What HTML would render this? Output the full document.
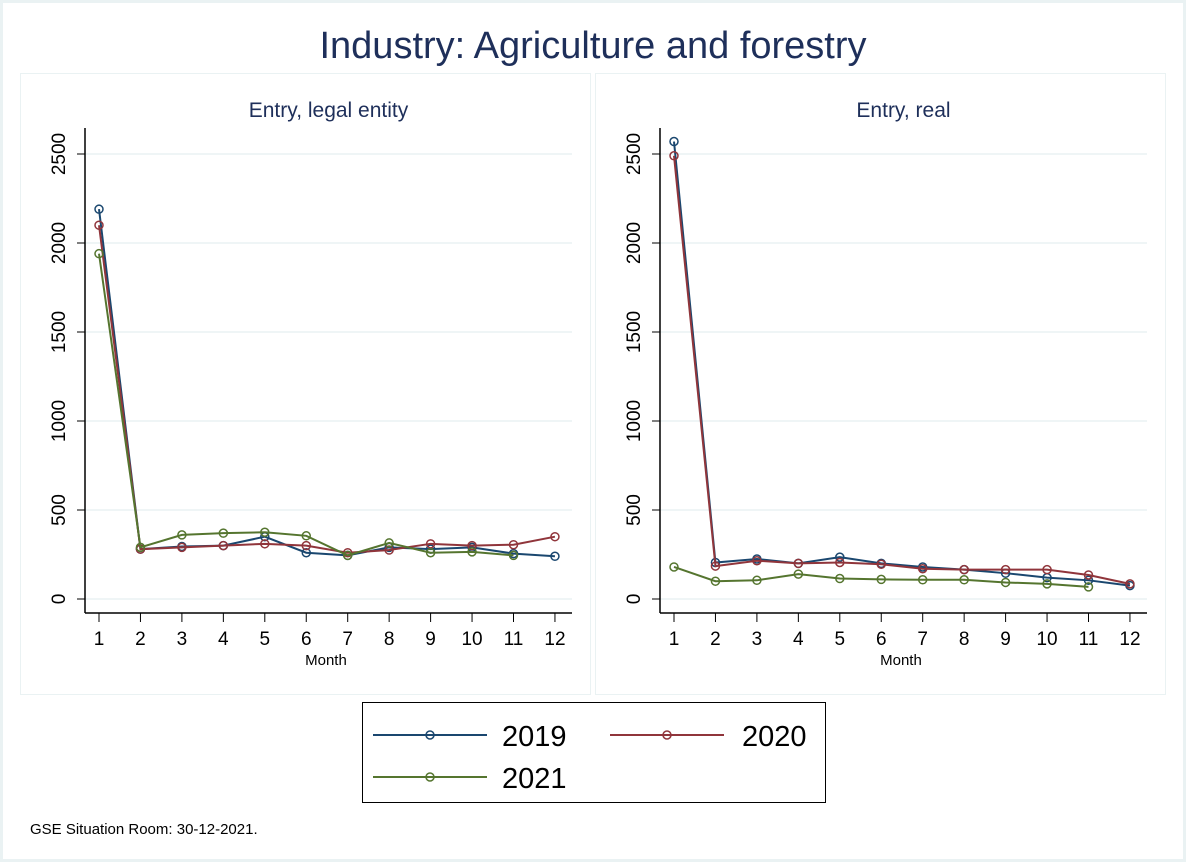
<!DOCTYPE html>
<html><head><style>
html,body{margin:0;padding:0;background:#fff}
svg text{font-family:"Liberation Sans",Arial,sans-serif}
</style></head><body>
<svg width="1186" height="862" xmlns="http://www.w3.org/2000/svg">
<rect x="1.5" y="1.5" width="1183" height="859" fill="#fff" stroke="#eaf2f3" stroke-width="3"/>
<text x="593" y="58" font-size="38" fill="#1e2f5a" text-anchor="middle">Industry: Agriculture and forestry</text>
<rect x="20.5" y="73.5" width="570" height="621" fill="#fff" stroke="#eaf2f3"/>
<rect x="595.5" y="73.5" width="570" height="621" fill="#fff" stroke="#eaf2f3"/>
<g id="panels"></g>
<rect x="362.5" y="702.5" width="463" height="100" fill="#fff" stroke="#000"/>
<line x1="373" y1="735" x2="487" y2="735" stroke="#1a476f" stroke-width="2"/><circle cx="430" cy="735" r="4" fill="none" stroke="#1a476f" stroke-width="1.5"/>
<text x="502" y="746" font-size="29">2019</text>
<line x1="610" y1="735" x2="724" y2="735" stroke="#90353b" stroke-width="2"/><circle cx="667" cy="735" r="4" fill="none" stroke="#90353b" stroke-width="1.5"/>
<text x="742" y="746" font-size="29">2020</text>
<line x1="373" y1="777" x2="487" y2="777" stroke="#55752f" stroke-width="2"/><circle cx="430" cy="777" r="4" fill="none" stroke="#55752f" stroke-width="1.5"/>
<text x="502" y="788" font-size="29">2021</text>
<text x="30" y="834" font-size="15">GSE Situation Room: 30-12-2021.</text>
</svg>
<script>
const NS="http://www.w3.org/2000/svg";
const g=document.getElementById("panels");
function el(t,a,txt){const e=document.createElementNS(NS,t);for(const k in a)e.setAttribute(k,a[k]);if(txt!==undefined)e.textContent=txt;g.appendChild(e);return e;}
const panels=[
 {dx:0,title:"Entry, legal entity",data:[
  [[2190,280,295,300,350,260,245,290,280,290,255,240],"#1a476f"],
  [[2100,280,290,300,310,300,260,275,310,300,305,350],"#90353b"],
  [[1940,290,360,370,375,355,245,315,260,265,245],"#55752f"]]},
 {dx:575,title:"Entry, real",data:[
  [[2570,205,225,200,235,200,180,165,145,120,105,75],"#1a476f"],
  [[2490,185,215,200,205,195,170,165,165,165,135,85],"#90353b"],
  [[180,100,105,140,115,110,108,108,93,85,68],"#55752f"]]}];
const Y=v=>599-v*0.178;
for(const p of panels){
 const d=p.dx, x0=85+d, x1=572+d;
 const X=i=>99+d+i*41.45;
 el("text",{x:(x0+x1)/2,y:117,"font-size":21,fill:"#1e2f5a","text-anchor":"middle"},p.title);
 for(let v=0;v<=2500;v+=500){
  const y=Y(v);
  el("line",{x1:x0,x2:x1,y1:y,y2:y,stroke:"#eaf2f3","stroke-width":1.5});
  el("line",{x1:x0-8,x2:x0,y1:y,y2:y,stroke:"#000"});
  el("text",{x:0,y:0,"font-size":19,"text-anchor":"middle",transform:`translate(${x0-20},${y}) rotate(-90)`},String(v));
 }
 el("line",{x1:x0,x2:x0,y1:128,y2:613,stroke:"#000","stroke-width":1.5});
 el("line",{x1:x0,x2:x1,y1:613,y2:613,stroke:"#000","stroke-width":1.5});
 for(let i=0;i<12;i++){
  el("line",{x1:X(i),x2:X(i),y1:613,y2:622,stroke:"#000"});
  el("text",{x:X(i),y:645,"font-size":19,"text-anchor":"middle"},String(i+1));
 }
 el("text",{x:X(5.5)-1,y:665,"font-size":15,"text-anchor":"middle"},"Month");
 for(const [vals,c] of p.data){
  el("polyline",{points:vals.map((v,i)=>X(i)+","+Y(v)).join(" "),fill:"none",stroke:c,"stroke-width":2});
  vals.forEach((v,i)=>el("circle",{cx:X(i),cy:Y(v),r:4,fill:"none",stroke:c,"stroke-width":1.5}));
 }
}
</script>
</body></html>
